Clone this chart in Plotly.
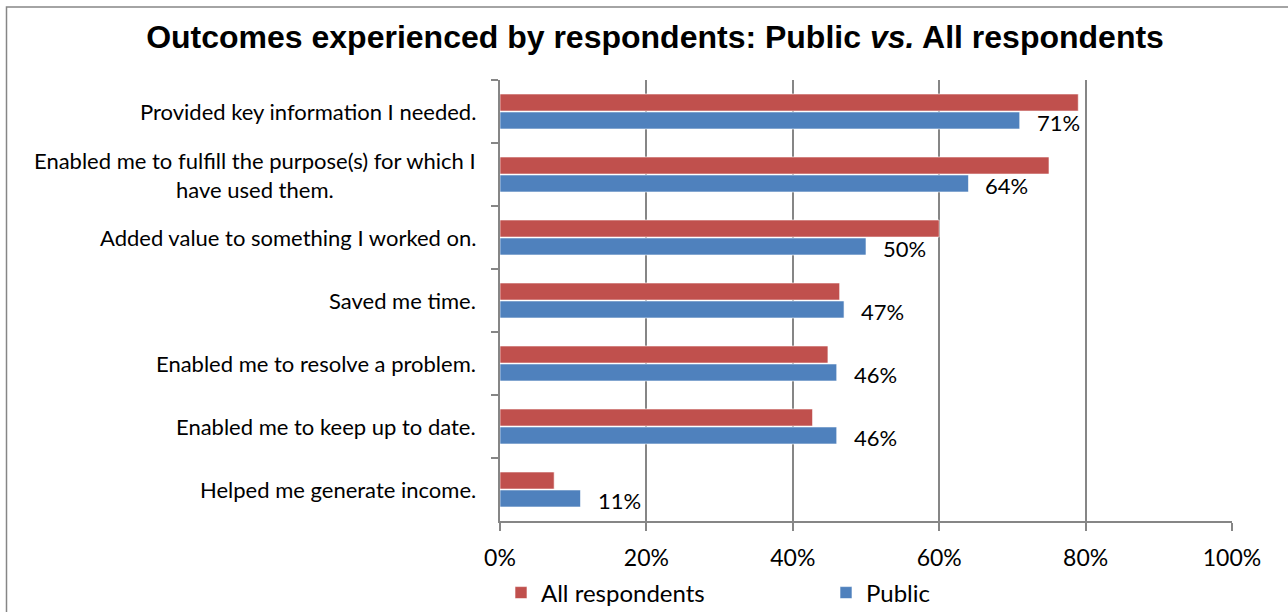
import plotly.graph_objects as go

# Survey outcomes, listed top to bottom
categories = [
    "Provided key information I needed.",
    "Enabled me to fulfill the purpose(s) for which I<br>have used them.",
    "Added value to something I worked on.",
    "Saved me time.",
    "Enabled me to resolve a problem.",
    "Enabled me to keep up to date.",
    "Helped me generate income.",
]
all_respondents = [79, 75, 60, 46.4, 44.8, 42.7, 7.4]
public = [71, 64, 50, 47, 46, 46, 11]
x_ticks = [0, 20, 40, 60, 80, 100]
x_tick_labels = [f"{t}%" for t in x_ticks]

RED = "#C0504D"
BLUE = "#4F81BD"
GRID = "#868686"
LABEL_FONT = "Lato"

W, H = 1288, 612
L, R, T, B = 500, 56, 80, 91

fig = go.Figure()
fig.add_trace(go.Bar(
    y=categories, x=all_respondents, orientation="h", name="All respondents",
    marker=dict(color=RED, line=dict(color="white", width=0.6)),
))
fig.add_trace(go.Bar(
    y=categories, x=public, orientation="h", name="Public",
    marker=dict(color=BLUE, line=dict(color="white", width=0.6)),
))

annotations = []
# category labels, centred lines, right-aligned against the axis
for cat in categories:
    annotations.append(dict(
        x=0, y=cat, xref="x", yref="y", text=cat, showarrow=False,
        xanchor="right", yanchor="middle", align="center", xshift=-22,
        font=dict(family=LABEL_FONT, size=22, color="black"),
    ))
# value labels for the Public series
for cat, v in zip(categories, public):
    annotations.append(dict(
        x=v, y=cat, xref="x", yref="y", text=f"{v:.0f}%", showarrow=False,
        xanchor="left", yanchor="middle", xshift=15, yshift=-11,
        font=dict(family=LABEL_FONT, size=22, color="black"),
    ))

plot_w = W - L - R
plot_h = H - T - B
fig.update_layout(
    width=W, height=H,
    margin=dict(l=L, r=R, t=T, b=B, pad=0, autoexpand=False),
    paper_bgcolor="white", plot_bgcolor="white",
    barmode="group", bargap=0.43, bargroupgap=0.05,
    title=dict(
        text="<b>Outcomes experienced by respondents: Public <i>vs.</i> All respondents</b>",
        x=655 / W, xref="container", xanchor="center",
        y=1 - 37 / H, yref="container", yanchor="middle",
        font=dict(family="Liberation Sans", size=32, color="black"),
    ),
    xaxis=dict(
        range=[0, 100], tickmode="array", tickvals=x_ticks, ticktext=x_tick_labels,
        showgrid=True, gridcolor=GRID, gridwidth=1.5, zeroline=False,
        showline=True, linecolor=GRID, linewidth=1.5,
        ticks="outside", ticklen=8, tickcolor=GRID, tickwidth=1.5,
        ticklabelstandoff=8,
        tickfont=dict(family=LABEL_FONT, size=23, color="black"),
    ),
    yaxis=dict(
        type="category", autorange="reversed",
        showline=True, linecolor=GRID, linewidth=1.5,
        ticks="outside", tickson="boundaries", ticklen=7, tickcolor=GRID, tickwidth=1.5,
        showticklabels=False, showgrid=False,
    ),
    legend=dict(
        orientation="h", x=(501 - L) / plot_w, xanchor="left",
        y=-(593 - (T + plot_h)) / plot_h, yanchor="middle",
        entrywidth=280, font=dict(family=LABEL_FONT, size=24, color="black"),
        bgcolor="rgba(0,0,0,0)",
    ),
    annotations=annotations,
    shapes=[dict(
        type="rect", xref="paper", yref="paper",
        x0=(6.5 - L) / plot_w, x1=1.3,
        y0=-0.5, y1=(T + plot_h - 7) / plot_h,
        line=dict(color=GRID, width=1.5), layer="below",
    )],
)

fig.write_html("out.html")
